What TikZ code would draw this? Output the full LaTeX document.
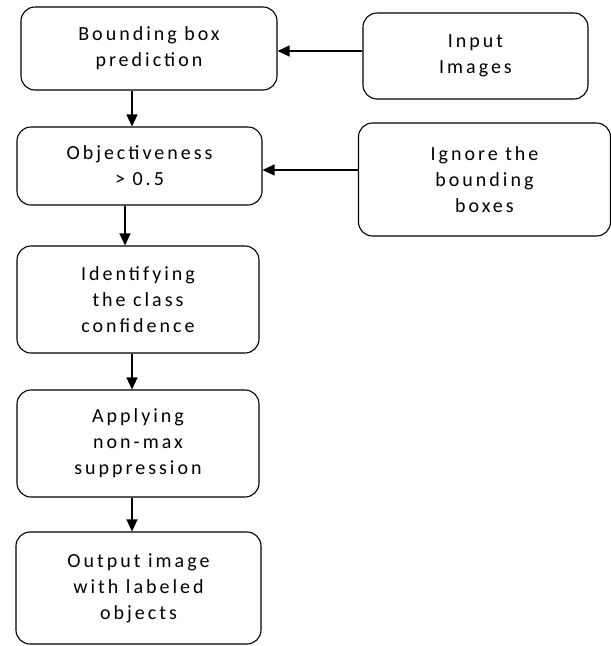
\documentclass[tikz,border=0pt]{standalone}
\usepackage{fontspec}
\setmainfont{Carlito}
\usetikzlibrary{arrows.meta,calc}

\tikzset{
  stage/.style={draw, line width=1.1pt, rounded corners=14pt, align=center, inner sep=2pt,
    font=\fontsize{20}{26}\selectfont\addfontfeatures{LetterSpace=15}},
  arr/.style={line width=1.3pt, -{Triangle[length=12pt,width=11pt]}}
}

\begin{document}
\begin{tikzpicture}[x=1pt,y=1pt,yscale=-1,xscale=1]
\useasboundingbox (0,0) rectangle (611,646);

% Main column
\node[stage, minimum width=256pt, minimum height=83pt] (bb) at (149,48.5) {Bounding box\\prediction};
\node[stage, minimum width=245pt, minimum height=78pt] (obj) at (139.5,166) {Objectiveness\\> 0.5};
\node[stage, minimum width=242pt, minimum height=107pt] (ident) at (138,299.5) {Identifying\\the class\\confidence};
\node[stage, minimum width=242pt, minimum height=107pt] (apply) at (138,443.5) {Applying\\non-max\\suppression};
\node[stage, minimum width=245pt, minimum height=112pt] (out) at (138.5,588) {Output image\\with labeled\\objects};

% Side boxes
\node[stage, minimum width=225pt, minimum height=86pt] (input) at (475.5,56) {Input\\Images};
\node[stage, minimum width=252pt, minimum height=113pt] (ignore) at (484.5,179.5) {Ignore the\\bounding\\boxes};

% Arrows
\draw[arr] ($(input.west)+(0,-5)$) -- ($(bb.east)+(0,2.5)$);
\draw[arr] ($(ignore.west)+(0,-9.5)$) -- ($(obj.east)+(0,4)$);
\draw[arr] ([xshift=-17pt]bb.south) -- ([xshift=-7.5pt]obj.north);
\draw[arr] ([xshift=-14.5pt]obj.south) -- ([xshift=-13pt]ident.north);
\draw[arr] ([xshift=-6pt]ident.south) -- ([xshift=-6pt]apply.north);
\draw[arr] ([xshift=-6pt]apply.south) -- ([xshift=-6.5pt]out.north);

\end{tikzpicture}
\end{document}
